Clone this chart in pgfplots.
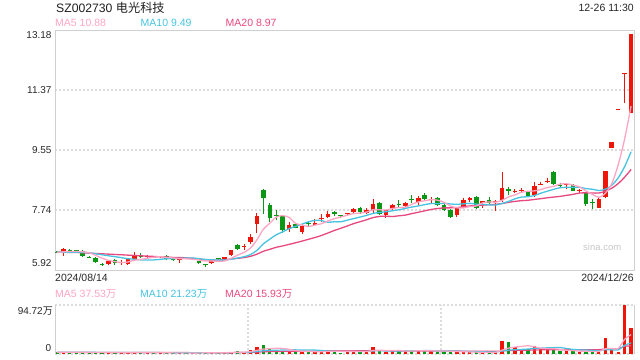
\documentclass[border=0pt]{standalone}
\usepackage{fontspec}
\setmainfont{Liberation Sans}
\newfontfamily\cjk{Noto Sans CJK SC}
\usepackage{pgfplots}
\pgfplotsset{compat=1.18}
\usepackage{pgfplotstable}

\definecolor{upc}{RGB}{238,22,8}
\definecolor{dnc}{RGB}{12,150,22}
\definecolor{maA}{RGB}{255,165,195}
\definecolor{maB}{RGB}{70,195,225}
\definecolor{maC}{RGB}{232,72,128}
\definecolor{framec}{RGB}{208,208,208}
\definecolor{gridc}{RGB}{220,220,220}
\definecolor{txt}{RGB}{40,40,40}

\pgfplotstableread{
i o h l c v
1 6.42 6.58 6.34 6.55 4.0
8 6.11 6.22 6.07 6.19 2.5
10 6.14 6.22 6.07 6.15 2.0
11 6.11 6.24 6.07 6.24 3.0
12 6.26 6.47 6.24 6.36 4.0
14 6.31 6.36 6.27 6.33 2.5
16 6.31 6.35 6.29 6.33 2.0
19 6.22 6.27 6.13 6.23 2.5
21 6.26 6.28 6.25 6.27 1.5
24 6.12 6.25 6.09 6.22 3.0
26 6.22 6.32 6.20 6.30 2.5
27 6.36 6.54 6.34 6.52 4.5
29 6.61 6.70 6.53 6.63 2.6
30 6.78 7.01 6.70 6.91 7.7
31 7.31 7.65 7.05 7.55 14.2
36 7.16 7.38 7.06 7.28 5.8
38 7.07 7.28 7.01 7.25 3.2
40 7.28 7.45 7.28 7.35 4.5
41 7.48 7.60 7.38 7.49 5.5
42 7.53 7.70 7.48 7.61 7.7
45 7.61 7.65 7.55 7.62 5.0
46 7.66 7.81 7.63 7.76 5.0
48 7.65 7.79 7.61 7.75 5.2
49 7.74 8.06 7.63 7.92 12.9
51 7.58 7.75 7.50 7.73 3.2
52 7.79 7.92 7.74 7.89 6.4
54 7.86 7.99 7.82 7.96 6.4
56 7.97 8.16 7.89 8.09 6.4
58 8.05 8.14 7.96 8.07 5.2
62 7.58 7.84 7.53 7.80 3.2
63 7.82 8.09 7.79 8.04 3.2
64 8.04 8.14 7.99 8.11 3.2
66 7.94 8.02 7.79 8.01 3.2
68 7.97 8.04 7.69 8.00 3.2
69 8.04 8.87 7.99 8.39 24.5
71 8.30 8.37 8.24 8.31 13.5
72 8.33 8.41 8.26 8.34 9.5
74 8.19 8.59 8.14 8.46 14.8
75 8.51 8.59 8.49 8.52 9.5
76 8.60 8.69 8.54 8.61 9.4
79 8.50 8.56 8.36 8.51 5.2
81 8.33 8.36 8.24 8.34 4.5
84 7.81 8.09 7.81 8.07 4.6
85 8.14 8.92 8.09 8.91 31.0
86 9.61 9.80 9.60 9.80 8.0
87 10.78 10.78 10.78 10.78 4.0
88 11.84 11.86 10.96 11.86 94.72
89 10.68 13.06 10.66 13.05 50.0
}\up

\pgfplotstableread{
i o h l c v
0 6.47 6.48 6.44 6.45 3.5
2 6.53 6.55 6.50 6.52 3.0
3 6.52 6.54 6.49 6.51 2.5
4 6.50 6.52 6.30 6.33 4.0
5 6.31 6.33 6.28 6.30 2.5
6 6.29 6.30 6.13 6.15 3.5
7 6.10 6.12 6.05 6.09 3.0
9 6.22 6.25 6.07 6.14 2.5
13 6.37 6.44 6.27 6.30 3.5
15 6.31 6.34 6.27 6.30 2.0
17 6.34 6.36 6.22 6.24 2.5
18 6.23 6.25 6.18 6.22 2.0
20 6.28 6.31 6.24 6.27 2.0
22 6.19 6.20 6.11 6.12 2.5
23 6.08 6.11 6.02 6.07 3.0
25 6.26 6.28 6.23 6.25 2.0
28 6.68 6.70 6.54 6.56 5.8
32 8.34 8.36 7.60 8.11 17.4
33 7.89 7.96 7.38 7.48 9.7
34 7.56 7.73 7.43 7.55 6.4
35 7.55 7.58 7.05 7.13 6.4
37 7.31 7.34 7.18 7.20 4.5
39 7.32 7.41 7.23 7.31 4.5
43 7.68 7.70 7.55 7.61 5.5
44 7.56 7.58 7.48 7.55 2.8
47 7.81 7.82 7.60 7.67 5.2
50 7.96 7.99 7.58 7.61 6.4
53 7.92 8.04 7.84 7.91 6.4
55 8.05 8.19 7.94 8.04 6.4
57 8.18 8.24 8.02 8.07 6.4
59 8.09 8.14 7.86 7.89 5.2
60 7.89 7.92 7.69 7.72 5.2
61 7.74 7.76 7.48 7.53 5.2
65 8.14 8.16 7.78 7.80 3.2
67 8.04 8.12 7.92 7.94 3.2
70 8.37 8.42 8.19 8.32 22.6
73 8.29 8.31 8.12 8.14 9.5
77 8.89 8.92 8.49 8.52 7.1
78 8.49 8.56 8.42 8.48 5.2
80 8.49 8.52 8.31 8.32 5.5
82 8.26 8.27 7.86 7.92 5.5
83 7.96 8.06 7.76 7.95 4.5
}\down

\pgfplotstableread{
i m5 m10 m20 v5 v10 v20
0 6.45 6.46 6.46 3.5 3.3 3.1
1 6.47 6.46 6.46 3.5 3.3 3.1
2 6.48 6.46 6.45 3.4 3.3 3.1
3 6.48 6.46 6.45 3.4 3.2 3.1
4 6.472 6.45 6.44 3.40 3.2 3.1
5 6.442 6.44 6.43 3.20 3.2 3.0
6 6.362 6.41 6.42 3.10 3.2 3.0
7 6.276 6.38 6.41 3.10 3.1 3.0
8 6.212 6.35 6.40 3.10 3.1 3.0
9 6.174 6.323 6.39 2.80 3.10 3.0
10 6.144 6.293 6.38 2.70 2.95 3.0
11 6.162 6.262 6.37 2.60 2.85 2.95
12 6.216 6.246 6.36 2.80 2.95 2.95
13 6.238 6.225 6.35 3.00 3.05 2.95
14 6.276 6.225 6.34 3.00 2.90 2.9
15 6.306 6.225 6.33 3.00 2.85 2.9
16 6.324 6.243 6.32 2.80 2.70 2.9
17 6.300 6.258 6.31 2.50 2.65 2.9
18 6.284 6.261 6.30 2.20 2.60 2.85
19 6.264 6.270 6.297 2.20 2.60 2.85
20 6.258 6.282 6.288 2.20 2.60 2.775
21 6.246 6.285 6.274 2.10 2.45 2.65
22 6.222 6.261 6.254 2.10 2.30 2.625
23 6.192 6.238 6.232 2.30 2.25 2.65
24 6.190 6.227 6.226 2.40 2.30 2.60
25 6.186 6.222 6.224 2.40 2.30 2.575
26 6.192 6.219 6.231 2.60 2.35 2.525
27 6.272 6.247 6.253 3.00 2.55 2.60
28 6.370 6.281 6.271 3.56 2.93 2.765
29 6.452 6.321 6.296 3.48 2.94 2.77
30 6.584 6.385 6.334 4.62 3.51 3.055
31 6.834 6.513 6.399 6.96 4.78 3.615
32 7.152 6.712 6.487 9.54 6.27 4.285
33 7.336 6.853 6.546 10.32 6.94 4.595
34 7.520 6.986 6.607 11.08 7.28 4.79
35 7.564 7.074 6.648 10.82 7.72 5.01
36 7.510 7.172 6.696 9.14 8.05 5.20
37 7.328 7.240 6.744 6.56 8.05 5.30
38 7.282 7.309 6.795 5.26 7.79 5.36
39 7.234 7.377 6.849 4.88 7.98 5.46
40 7.278 7.421 6.903 4.50 7.66 5.585
41 7.320 7.415 6.964 4.44 6.79 5.785
42 7.402 7.365 7.039 5.08 5.82 6.045
43 7.474 7.378 7.116 5.54 5.40 6.17
44 7.522 7.378 7.182 5.20 5.04 6.16
45 7.576 7.427 7.251 5.30 4.90 6.31
46 7.630 7.475 7.324 5.20 4.82 6.435
47 7.642 7.522 7.381 4.70 4.89 6.47
48 7.670 7.572 7.441 4.64 5.09 6.44
49 7.744 7.633 7.505 6.66 5.93 6.955
50 7.742 7.659 7.540 6.94 6.12 6.89
51 7.736 7.683 7.549 6.58 5.89 6.34
52 7.780 7.711 7.538 6.82 5.76 5.79
53 7.812 7.741 7.560 7.06 5.85 5.625
54 7.820 7.782 7.580 5.76 6.21 5.625
55 7.906 7.824 7.626 5.76 6.35 5.625
56 7.978 7.857 7.666 6.40 6.49 5.655
57 8.014 7.897 7.710 6.40 6.61 5.75
58 8.046 7.929 7.751 6.16 6.61 5.85
59 8.032 7.926 7.780 5.92 5.84 5.885
60 7.968 7.937 7.798 5.68 5.72 5.92
61 7.856 7.917 7.800 5.44 5.92 5.905
62 7.802 7.908 7.810 4.80 5.60 5.68
63 7.796 7.921 7.831 4.40 5.28 5.565
64 7.840 7.936 7.859 4.00 4.96 5.585
65 7.856 7.912 7.868 3.60 4.64 5.495
66 7.952 7.904 7.881 3.20 4.32 5.405
67 7.980 7.891 7.894 3.20 4.00 5.305
68 7.972 7.884 7.907 3.20 3.80 5.205
69 8.028 7.934 7.930 7.46 5.73 5.785
70 8.132 7.994 7.966 11.34 7.47 6.595
71 8.192 8.072 7.995 13.40 8.30 7.11
72 8.272 8.126 8.017 14.66 8.93 7.265
73 8.300 8.136 8.029 15.92 9.56 7.42
74 8.314 8.171 8.054 13.98 10.72 7.84
75 8.354 8.243 8.078 11.36 11.35 7.995
76 8.414 8.303 8.104 10.54 11.97 8.145
77 8.450 8.361 8.126 10.06 12.36 8.18
78 8.518 8.409 8.147 9.20 12.56 8.18
79 8.528 8.421 8.178 7.28 10.63 8.18
80 8.488 8.421 8.208 6.48 8.92 8.195
81 8.434 8.424 8.248 5.50 8.02 8.16
82 8.314 8.382 8.254 5.18 7.62 8.275
83 8.208 8.363 8.250 5.04 7.12 8.34
84 8.120 8.324 8.248 4.92 6.10 8.41
85 8.238 8.363 8.303 10.02 8.25 9.80
86 8.530 8.482 8.393 10.72 8.11 10.04
87 9.102 8.708 8.535 10.42 7.80 10.08
88 9.884 9.046 8.728 28.46 16.75 14.656
89 10.880 9.500 8.961 37.54 21.23 15.931
}\ma

\begin{document}
\begin{tikzpicture}
\useasboundingbox (0,0) rectangle (640bp,360bp);

% ---------- price panel ----------
\begin{axis}[
  at={(55bp,90bp)}, anchor=south west, scale only axis,
  width=579bp, height=240bp,
  xmin=-0.3, xmax=89.45, ymin=5.92, ymax=13.18,
  axis line style={framec, line width=0.9bp},
  xtick=\empty,
  ytick={7.74,9.55,11.37}, yticklabels={7.74,9.55,11.37},
  ymajorgrids,
  grid style={gridc, line width=1.6bp, dash pattern=on 2bp off 2bp},
  major tick length=0pt,
  yticklabel style={font=\fontsize{10bp}{12bp}\selectfont, text=txt},
]
\addplot[upc, line width=1bp, quiver={u=0, v=\thisrow{h}-\thisrow{l}}]
  table[x=i, y=l] {\up};
\addplot[upc, line width=4.6bp, quiver={u=0, v={max(abs(\thisrow{c}-\thisrow{o}),0.03)}}]
  table[x=i, y expr={(\thisrow{o}+\thisrow{c})/2-max(abs(\thisrow{c}-\thisrow{o}),0.03)/2}] {\up};
\addplot[dnc, line width=1bp, quiver={u=0, v=\thisrow{h}-\thisrow{l}}]
  table[x=i, y=l] {\down};
\addplot[dnc, line width=4.6bp, quiver={u=0, v={max(abs(\thisrow{c}-\thisrow{o}),0.03)}}]
  table[x=i, y expr={(\thisrow{o}+\thisrow{c})/2-max(abs(\thisrow{c}-\thisrow{o}),0.03)/2}] {\down};
\addplot[maC, line width=1.3bp, smooth, no marks] table[x=i, y=m20] {\ma};
\addplot[maB, line width=1.3bp, smooth, no marks] table[x=i, y=m10] {\ma};
\addplot[maA, line width=1.3bp, smooth, no marks] table[x=i, y=m5] {\ma};
\end{axis}

% ---------- volume panel ----------
\begin{axis}[
  at={(55bp,6bp)}, anchor=south west, scale only axis,
  width=579bp, height=49bp,
  xmin=-0.3, xmax=89.45, ymin=0, ymax=94.72,
  axis line style={draw=none},
  xtick={29.62,59.53}, xticklabels={},
  ytick={0,94.72}, yticklabels={},
  xmajorgrids, ymajorgrids,
  grid style={gridc, line width=1.6bp, dash pattern=on 2bp off 2bp},
  major tick length=0pt,
]
\addplot[upc, line width=3.3bp, quiver={u=0, v=\thisrow{v}}]
  table[x=i, y expr=0] {\up};
\addplot[dnc, line width=3.3bp, quiver={u=0, v=\thisrow{v}}]
  table[x=i, y expr=0] {\down};
\addplot[maC, line width=1.2bp, smooth, no marks] table[x=i, y=v20] {\ma};
\addplot[maB, line width=1.2bp, smooth, no marks] table[x=i, y=v10] {\ma};
\addplot[maA, line width=1.2bp, smooth, no marks] table[x=i, y=v5] {\ma};
\end{axis}
\draw[framec, line width=0.9bp] (55bp,6bp) -- (55bp,55bp);
\draw[framec, line width=0.9bp] (634bp,6bp) -- (634bp,55bp);

% ---------- texts ----------
\node[anchor=base west, inner sep=0pt, font=\fontsize{12.2bp}{14bp}\selectfont, text=black!88]
  at (56bp,347.7bp) {SZ002730 {\cjk 电光科技}};
\node[anchor=base east, inner sep=0pt, font=\fontsize{10.5bp}{12bp}\selectfont, text=black!85]
  at (634bp,348bp) {12-26 11:30};

\node[anchor=base west, inner sep=0pt, font=\fontsize{10.5bp}{12bp}\selectfont, text=maA] at (55bp,333bp) {MA5 10.88};
\node[anchor=base west, inner sep=0pt, font=\fontsize{10.5bp}{12bp}\selectfont, text=maB] at (140.5bp,333bp) {MA10 9.49};
\node[anchor=base west, inner sep=0pt, font=\fontsize{10.5bp}{12bp}\selectfont, text=maC] at (225.5bp,333bp) {MA20 8.97};

\node[anchor=east, inner sep=0pt, font=\fontsize{10bp}{12bp}\selectfont, text=txt] at (51.7bp,325bp) {13.18};
\node[anchor=east, inner sep=0pt, font=\fontsize{10bp}{12bp}\selectfont, text=txt] at (51.7bp,97bp) {5.92};

\node[anchor=base west, inner sep=0pt, font=\fontsize{10.5bp}{12bp}\selectfont, text=txt] at (55bp,78.3bp) {2024/08/14};
\node[anchor=base east, inner sep=0pt, font=\fontsize{10.5bp}{12bp}\selectfont, text=txt] at (634bp,78.3bp) {2024/12/26};

\node[anchor=base west, inner sep=0pt, font=\fontsize{9.5bp}{11bp}\selectfont, text=black!22] at (583bp,109bp) {sina.com};

\node[anchor=base west, inner sep=0pt, font=\fontsize{10.5bp}{12bp}\selectfont, text=maA] at (55bp,62bp) {MA5 37.53{\cjk 万}};
\node[anchor=base west, inner sep=0pt, font=\fontsize{10.5bp}{12bp}\selectfont, text=maB] at (140bp,62bp) {MA10 21.23{\cjk 万}};
\node[anchor=base west, inner sep=0pt, font=\fontsize{10.5bp}{12bp}\selectfont, text=maC] at (225bp,62bp) {MA20 15.93{\cjk 万}};

\node[anchor=east, inner sep=0pt, font=\fontsize{10bp}{12bp}\selectfont, text=txt] at (53bp,49bp) {94.72{\cjk 万}};
\node[anchor=east, inner sep=0pt, font=\fontsize{10bp}{12bp}\selectfont, text=txt] at (51.5bp,11.7bp) {0};
\end{tikzpicture}
\end{document}
